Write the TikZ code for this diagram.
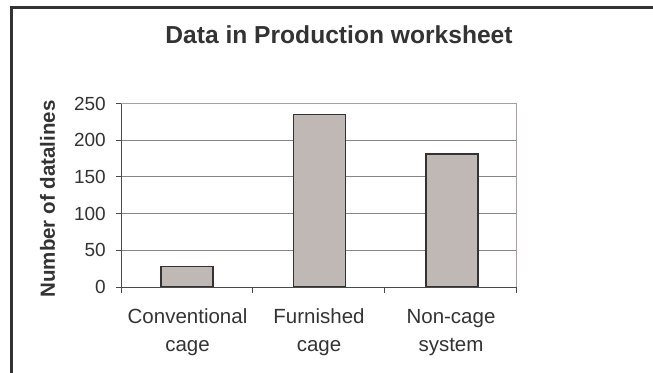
\documentclass[tikz,border=0pt]{standalone}
\usepackage{fontspec}
\setmainfont{Liberation Sans}
\usepackage{tikz}
\usepackage{xcolor}

\definecolor{framegray}{HTML}{333333}
\definecolor{axisgray}{HTML}{4A4A4A}
\definecolor{gridgray}{HTML}{858585}
\definecolor{edgegray}{HTML}{A89E9C}
\definecolor{bargray}{HTML}{C0B8B5}

\begin{document}
\begin{tikzpicture}[x=1pt, y=-1pt,
	ticklabel/.style={anchor=east, inner sep=0pt, text=framegray, font=\fontsize{19}{19}\selectfont},
	catlabel/.style={anchor=south, align=center, inner sep=0pt, text=framegray, font=\fontsize{20.5}{28}\selectfont},
	bar/.style={draw=framegray, fill=bargray, line width=1.6pt}]
	\useasboundingbox (0,0) rectangle (653,372);
	% frame of the chart
	\draw[framegray, line width=2.2pt] (11.5,390) -- (11.5,7.5) -- (680,7.5);
	\node[anchor=base, text=framegray, font=\bfseries\fontsize{24.6}{24.6}\selectfont] (title) at (339,43) {Data in Production worksheet};
	% grid and ticks
	\foreach \v in {50,100,150,200}
	{
		\draw[gridgray, line width=0.9pt] (121,{287-0.734*\v}) -- (516.7,{287-0.734*\v});
	}
	\draw[edgegray, line width=0.9pt] (121,103.5) -- (516.7,103.5) -- (516.7,287);
	\foreach \v in {0,50,...,250}
	{
		\draw[axisgray, line width=0.9pt] (116,{287-0.734*\v}) -- (121,{287-0.734*\v});
		\node[ticklabel] (tick\v) at (106,{287-0.734*\v}) {\v};
	}
	\foreach \x in {121,252.9,384.8,516.7}
	{
		\draw[axisgray, line width=0.9pt] (\x,287) -- (\x,292.5);
	}
	% bars
	\foreach \x/\v in {187/28,319.3/235,451.7/181}
	{
		\draw[bar] ({\x-26},287) rectangle ({\x+26},{287-0.734*\v});
	}
	\draw[axisgray, line width=1pt] (121,103.5) -- (121,287) -- (516.7,287);
	% labels
	\node[rotate=90, text=framegray, font=\bfseries\fontsize{20.5}{20.5}\selectfont] (ytitle) at (47.5,199) {Number of datalines};
	\node[catlabel] (conv) at (187.5,356) {Conventional\\cage};
	\node[catlabel] (furn) at (319,356) {Furnished\\cage};
	\node[catlabel] (noncage) at (451,356) {Non-cage\\system};
\end{tikzpicture}
\end{document}
